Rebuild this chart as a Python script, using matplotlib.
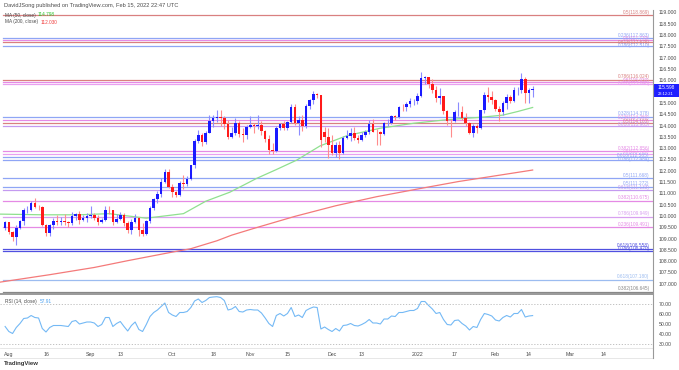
import numpy as np
import pandas as pd
import matplotlib
matplotlib.use("Agg")
import matplotlib.pyplot as plt
from matplotlib.patches import Rectangle

# ---- data (USD/JPY daily) ----
dates = pd.bdate_range("2021-07-30", "2022-02-15")

opens = [109.47,
         109.71, 109.30, 109.05, 109.48, 109.78, 110.24, 110.27, 110.59, 110.41, 110.39, 109.59,
         109.24, 109.60, 109.77, 109.75, 109.79, 109.72, 109.67, 110.01, 110.09, 109.83, 109.92,
         110.00, 110.02, 109.93, 109.71, 109.83, 110.27, 110.26, 109.71, 109.88, 110.02, 109.70,
         109.37, 109.71, 109.92, 109.39, 109.22, 109.79, 110.33, 110.73, 110.99, 111.50, 111.94,
         111.29, 111.05, 110.93, 111.45, 111.43, 111.62, 112.24, 113.30, 113.60, 113.26, 113.69,
         114.22, 114.35, 114.38, 114.33, 114.05, 113.49, 113.66, 114.13, 113.62, 113.57,
         113.95, 114.03, 113.97, 114.03, 113.76, 113.40, 112.90, 112.87, 113.90, 114.07, 113.88,
         114.14, 114.82, 114.09, 114.26, 114.00, 114.86, 115.12, 115.39, 115.36, 113.70, 113.48,
         113.15, 112.80, 113.12, 112.80, 113.45, 113.52, 113.67, 113.44, 113.38, 113.56, 113.71,
         114.05, 113.72, 113.70, 113.61, 114.09, 114.11, 114.41, 114.38, 114.82, 114.81, 114.97,
         115.07,
         115.08, 115.30, 116.12, 116.13, 115.83, 115.56, 115.20, 115.29, 114.66, 114.20, 114.18,
         114.59, 114.61, 114.31, 114.09, 113.68, 113.98, 113.87, 114.67, 115.36, 115.26,
         115.11, 114.71, 114.59, 114.99, 115.25, 115.09, 115.55, 115.55, 116.04, 115.42, 115.57]

highs = [109.78,
         109.73, 109.35, 109.62, 109.81, 110.37, 110.45, 110.66, 110.80, 110.50, 110.44, 109.64,
         109.66, 109.89, 110.05, 109.96, 110.08, 109.78, 110.17, 110.14, 110.23, 110.03, 110.12,
         110.42, 110.14, 110.06, 109.92, 110.45, 110.45, 110.28, 110.10, 110.16, 110.14, 109.79,
         109.85, 110.08, 109.95, 109.70, 109.83, 110.45, 110.79, 111.09, 111.68, 112.08, 112.08,
         111.42, 111.10, 111.53, 111.80, 111.77, 112.25, 113.41, 113.80, 113.68, 113.74, 114.46,
         114.45, 114.69, 114.70, 114.41, 114.26, 113.92, 114.31, 114.20, 113.88, 114.03,
         114.44, 114.13, 114.46, 114.22, 113.82, 113.56, 113.24, 113.96, 114.13, 114.19, 114.20,
         114.97, 114.96, 114.41, 114.46, 114.93, 115.17, 115.52, 115.46, 115.37, 113.95, 113.90,
         113.60, 113.27, 113.30, 113.53, 113.80, 113.90, 113.93, 113.59, 113.72, 113.81, 114.25,
         114.29, 113.85, 113.75, 114.15, 114.27, 114.48, 114.46, 114.86, 114.94, 115.03, 115.20,
         115.19,
         115.43, 116.35, 116.21, 116.14, 116.04, 115.74, 115.68, 115.31, 114.70, 114.28, 114.70,
         115.06, 114.88, 114.55, 114.17, 114.05, 114.08, 114.70, 115.48, 115.69, 115.54,
         115.16, 114.87, 115.08, 115.39, 115.37, 115.69, 115.70, 116.34, 116.15, 115.65, 115.74]

lows = [109.36,
        109.19, 108.89, 108.72, 109.41, 109.60, 110.15, 110.21, 110.36, 110.24, 109.54, 109.12,
        109.11, 109.44, 109.58, 109.60, 109.62, 109.52, 109.59, 109.83, 109.63, 109.76, 109.75,
        109.90, 109.84, 109.59, 109.70, 109.78, 110.08, 109.60, 109.69, 109.82, 109.55, 109.26,
        109.22, 109.68, 109.12, 109.11, 109.15, 109.68, 110.25, 110.56, 110.82, 111.44, 111.25,
        110.82, 110.82, 110.89, 111.21, 111.34, 111.57, 112.11, 113.21, 113.11, 113.17, 113.67,
        113.92, 114.15, 113.96, 113.84, 113.41, 113.45, 113.58, 113.49, 113.26, 113.42,
        113.90, 113.65, 113.83, 113.60, 113.29, 112.73, 112.72, 112.82, 113.81, 113.80, 113.79,
        114.09, 114.04, 113.59, 113.75, 113.89, 114.71, 114.97, 115.21, 113.06, 113.25, 112.55,
        112.70, 112.60, 112.53, 112.73, 113.41, 113.30, 113.34, 113.22, 113.33, 113.50, 113.63,
        113.70, 113.13, 113.14, 113.56, 113.97, 114.06, 114.23, 114.35, 114.65, 114.64, 114.84,
        114.90,
        114.94, 115.27, 115.82, 115.65, 115.44, 115.06, 114.93, 114.51, 114.03, 113.48, 114.16,
        114.41, 114.24, 113.96, 113.62, 113.47, 113.69, 113.83, 114.54, 115.05, 114.95,
        114.63, 114.22, 114.45, 114.75, 114.99, 115.02, 115.36, 115.46, 114.99, 114.98, 115.25]

closes = [109.71,
          109.30, 109.05, 109.48, 109.78, 110.24, 110.27, 110.59, 110.41, 110.39, 109.59, 109.24,
          109.60, 109.77, 109.75, 109.79, 109.72, 109.67, 110.01, 110.09, 109.83, 109.92, 110.00,
          110.02, 109.93, 109.71, 109.83, 110.27, 110.26, 109.71, 109.88, 110.02, 109.70, 109.37,
          109.71, 109.92, 109.39, 109.22, 109.79, 110.33, 110.73, 110.99, 111.50, 111.94, 111.29,
          111.05, 110.93, 111.45, 111.43, 111.62, 112.24, 113.30, 113.60, 113.26, 113.69, 114.22,
          114.35, 114.38, 114.33, 114.05, 113.49, 113.66, 114.13, 113.62, 113.57, 113.95,
          114.03, 113.97, 114.03, 113.76, 113.40, 112.90, 112.87, 113.90, 114.07, 113.88, 114.14,
          114.82, 114.09, 114.26, 114.00, 114.86, 115.12, 115.39, 115.36, 113.38, 113.48, 113.15,
          112.80, 113.12, 112.80, 113.45, 113.52, 113.67, 113.44, 113.38, 113.56, 113.71, 114.05,
          113.72, 113.70, 113.61, 114.09, 114.11, 114.41, 114.38, 114.82, 114.81, 114.97, 115.07,
          115.08,
          115.30, 116.12, 116.13, 115.83, 115.56, 115.20, 115.29, 114.66, 114.20, 114.18, 114.59,
          114.61, 114.31, 114.09, 113.68, 113.98, 113.87, 114.67, 115.36, 115.26, 115.11,
          114.71, 114.59, 114.99, 115.25, 115.09, 115.55, 115.55, 116.04, 115.42, 115.57, 115.598]

# moving averages, sampled along the drawn lines (bar index, value); bar 0 = Jul 30
ma50_idx = [-1.4, 10, 20, 28, 38, 48, 54, 60.5, 67.7, 73, 78.5, 84.8, 92, 101, 110, 118,
            122.4, 127.8, 134, 138, 142]
ma50_val = [110.08, 110.05, 110.05, 110.10, 109.90, 110.10, 110.65, 111.05, 111.66, 112.05,
            112.47, 113.10, 113.55, 113.88, 114.10, 114.24, 114.30, 114.36, 114.46, 114.62, 114.798]
ma200_idx = [-1.4, 12, 24, 33, 45, 50, 57, 61, 67, 78, 89, 100, 112, 122, 133, 142]
ma200_val = [107.07, 107.40, 107.72, 108.02, 108.40, 108.55, 108.90, 109.15, 109.45, 109.98,
             110.45, 110.85, 111.22, 111.52, 111.80, 112.03]

rsi_vals = [47, 42, 40, 46, 50, 55, 55.5, 58, 56, 55.5, 45, 41.5, 46, 48, 48, 48, 47.5, 47, 52, 53,
            49.5, 50.5, 51.5, 51.5, 50.5, 47, 49, 56, 56, 47, 50, 52, 47, 42.5, 48, 51.5, 44, 42, 49,
            57, 61, 63.5, 67, 70.5, 61, 58.5, 57, 61, 61, 62, 66, 72.5, 74.5, 71, 73, 76, 76.5, 76.8,
            76, 73, 63.5, 64.5, 67, 62, 61.5, 63.5, 64, 63.5, 63.5, 60.5, 55.5, 50, 47, 58, 60, 57.5,
            60, 66, 57, 58.5, 56, 63, 65, 66.5, 66, 44.5, 46.5, 44, 42, 45, 42.5, 48, 48.5, 50, 48,
            47.5, 49, 51, 54, 50.5, 50.5, 49.5, 54.5, 54.5, 57.5, 57, 61, 61, 62, 63, 63, 65, 72, 72,
            68, 64.5, 60, 61, 54, 49, 48.5, 53, 53.5, 50, 47.5, 43.5, 47, 46, 54, 60, 59, 57.5, 53.5,
            52.5, 56, 58, 56.5, 60, 60, 64, 56.5, 57.5, 57.91]

# fibonacci retracement levels (price, ratio label, colour)
fib_prices = [118.869, 117.863, 117.770, 117.676, 117.510, 116.024, 115.930, 115.840,
              114.378, 114.260, 114.100, 113.965, 112.856, 112.720, 112.585, 112.484,
              111.668, 111.272, 111.133, 110.675, 109.949, 109.491, 108.558, 108.470,
              107.180, 106.645]
fib_ratios = ["0.5", "0.236", "0.5", "0.618", "0.786", "0.786", "0.5", "0.618",
              "0.328", "0.236", "0.5", "0.618", "0.382", "0.5", "0.618", "0.786",
              "0.5", "0.5", "0.618", "0.382", "0.786", "0.236", "0.618", "0.786",
              "0.618", "0.382"]
fib_colors = ["#d98080", "#8fa5f5", "#e58ae5", "#d98080", "#8fa5f5", "#d98080", "#e58ae5", "#e9a0f0",
              "#8fa5f5", "#e58ae5", "#d98080", "#c49af0", "#e58ae5", "#e9a0f0", "#8fa5f5", "#8fa5f5",
              "#8fa5f5", "#8fa5f5", "#c49af0", "#e58ae5", "#d8a0f0", "#e58ae5", "#5050e0", "#5050e0",
              "#9cbcf0", "#888888"]

# right-hand price scale (115.500 sits under the last-price tag)
price_ticks = [107.0, 107.5, 108.0, 108.5, 109.0, 109.5, 110.0, 110.5, 111.0, 111.5, 112.0, 112.5,
               113.0, 113.5, 114.0, 114.5, 115.0, 116.0, 116.5, 117.0, 117.5, 118.0, 118.5, 119.0]

time_labels = ["Aug", "16", "Sep", "13", "Oct", "18", "Nov", "15", "Dec", "13",
               "2022", "17", "Feb", "14", "Mar", "14"]
time_dates = ["2021-08-02", "2021-08-16", "2021-09-01", "2021-09-13", "2021-10-01", "2021-10-18",
              "2021-11-01", "2021-11-15", "2021-12-01", "2021-12-13", "2022-01-03", "2022-01-17",
              "2022-02-01", "2022-02-14", "2022-03-01", "2022-03-14"]

# ---- layout in pixels ----
W, H = 679, 370
fig = plt.figure(figsize=(W / 100, H / 100), dpi=100)
plt.rcParams["font.family"] = ["Liberation Sans", "DejaVu Sans"]

def box(x0, y0, x1, y1):
    return [x0 / W, 1 - y1 / H, (x1 - x0) / W, (y1 - y0) / H]

AX_R = 653
ax = fig.add_axes(box(0, 10, AX_R, 293))
rax = fig.add_axes(box(0, 295, AX_R, 348))

x = np.arange(len(closes))
XL = (-1.38, 174.4)
text_col = "#4a4a4a"

# ---- candles ----
o, h, l, c = map(np.array, (opens, highs, lows, closes))
up = c >= o
ax.vlines(x[up], l[up], h[up], color="#8c8cff", lw=0.8, zorder=3)
ax.vlines(x[~up], l[~up], h[~up], color="#ff8c8c", lw=0.8, zorder=3)
body_lo = np.minimum(o, c)
body_h = np.maximum(np.abs(c - o), 0.02)
ax.bar(x[up], body_h[up], bottom=body_lo[up], width=0.7, color="#1a1aff", lw=0, zorder=4)
ax.bar(x[~up], body_h[~up], bottom=body_lo[~up], width=0.7, color="#ff1a1a", lw=0, zorder=4)

# moving averages
ax.plot(ma50_idx, ma50_val, color="#8fe08f", lw=0.9, zorder=2)
ax.plot(ma200_idx, ma200_val, color="#f47a7a", lw=0.9, zorder=2)

# fib levels; labels sit just above their line, nudged so close ones do not collide
label_y = []
for p in fib_prices:
    y = p + 0.03
    if label_y and label_y[-1] - y < 0.16:
        y = label_y[-1] - 0.16
    label_y.append(y)
for p, ly, r, col in zip(fib_prices, label_y, fib_ratios, fib_colors):
    ax.axhline(p, xmin=0.005, xmax=1, color=col, lw=0.9, zorder=1)
    ax.text(0.995, ly, f"{r}({p:.3f})", transform=ax.get_yaxis_transform(),
            ha="right", va="bottom", fontsize=3.4, color=col)

ax.set_xlim(*XL)
ax.set_ylim(106.59, 119.11)
ax.yaxis.tick_right()
ax.set_yticks(price_ticks)
ax.set_yticklabels([f"{v:.3f}" for v in price_ticks], fontsize=3.7, color=text_col)
ax.tick_params(axis="y", length=0, pad=4)
ax.set_xticks([])
for s in ax.spines.values():
    s.set_visible(False)

# legend texts
ax.text(5 / AX_R, 1 - 5 / 283, "MA (50, close)", transform=ax.transAxes, fontsize=3.4,
        color=text_col, va="center")
ax.text(38 / AX_R, 1 - 5 / 283, "114.798", transform=ax.transAxes, fontsize=3.4,
        color="#2cc22c", va="center")
ax.text(5 / AX_R, 1 - 12 / 283, "MA (200, close)", transform=ax.transAxes, fontsize=3.4,
        color=text_col, va="center")
ax.text(41 / AX_R, 1 - 12 / 283, "112.030", transform=ax.transAxes, fontsize=3.4,
        color="#f03c3c", va="center")

# last price tag
last = closes[-1]
fig.add_artist(Rectangle((654 / W, 1 - 97 / H), 25 / W, 13 / H, transform=fig.transFigure,
                         fc="#1f1fff", ec="none"))
fig.text(666 / W, 1 - 87.3 / H, f"{last:.3f}", fontsize=3.4, color="white", ha="center", va="center")
fig.text(666 / W, 1 - 93.6 / H, "23:12:21", fontsize=2.9, color="white", ha="center", va="center")

# ---- RSI pane ----
rax.plot(x, rsi_vals, color="#74b9f5", lw=0.8)
for lvl in (70, 30):
    rax.axhline(lvl, color="#b8b8b8", lw=0.6, ls=(0, (1.5, 2)))
rax.set_xlim(*XL)
rax.set_ylim(25.5, 78.5)
rax.yaxis.tick_right()
rax.set_yticks([30, 40, 50, 60, 70])
rax.set_yticklabels(["30.00", "40.00", "50.00", "60.00", "70.00"], fontsize=3.7, color=text_col)
rax.tick_params(axis="y", length=0, pad=4)
all_days = pd.bdate_range("2021-07-30", "2022-03-31")
tick_pos = [all_days.get_loc(pd.Timestamp(d)) for d in time_dates]
rax.set_xticks(tick_pos)
rax.set_xticklabels(time_labels, fontsize=3.8, color=text_col)
rax.tick_params(axis="x", length=0, pad=3)
for s in rax.spines.values():
    s.set_visible(False)
rax.text(5 / AX_R, 0.88, "RSI (14, close)", transform=rax.transAxes, fontsize=3.4,
         color=text_col, va="center")
rax.text(40 / AX_R, 0.88, "57.91", transform=rax.transAxes, fontsize=3.4,
         color="#4aa0f0", va="center")

# pane separators and frame
fig.add_artist(plt.Line2D([0, AX_R / W], [1 - 293.5 / H] * 2, color="#999999", lw=1.4))
fig.add_artist(plt.Line2D([0, AX_R / W], [1 - 348 / H] * 2, color="#dddddd", lw=0.5))
fig.add_artist(plt.Line2D([0, AX_R / W], [1 - 358 / H] * 2, color="#dddddd", lw=0.5))
fig.add_artist(plt.Line2D([AX_R / W] * 2, [1 - 358 / H, 1 - 10 / H], color="#999999", lw=0.8))

# header and footer
fig.text(4 / W, 1 - 5 / H, "DavidJSong published on TradingView.com, Feb 15, 2022 22:47 UTC",
         fontsize=4.1, color=text_col, va="center")
fig.text(4 / W, 1 - 364 / H, "TradingView", fontsize=4.3, color="#333333", va="center",
         fontweight="bold")

fig.savefig("out.png", dpi=100)
